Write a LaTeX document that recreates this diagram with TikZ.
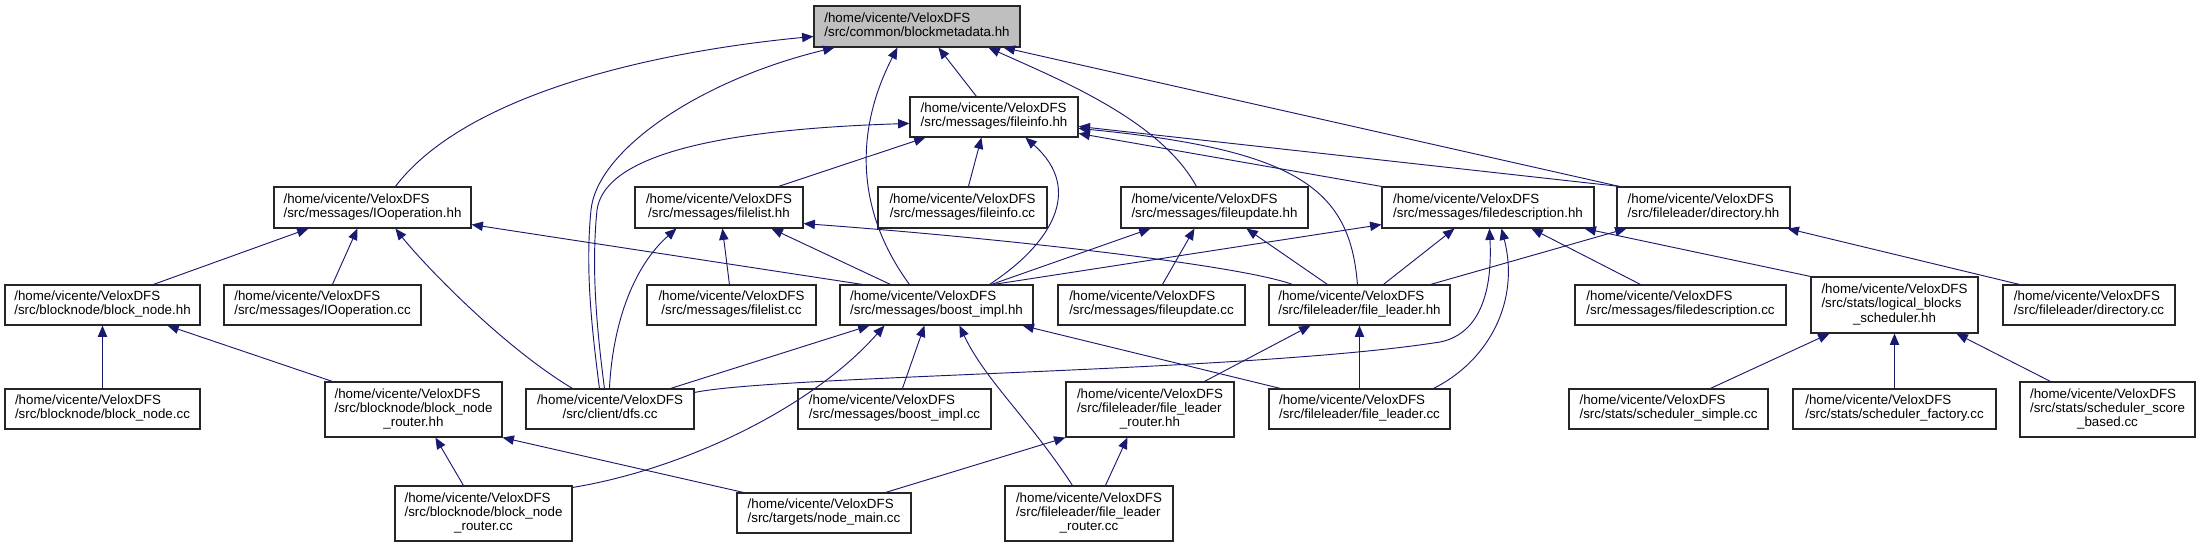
\documentclass[tikz,border=0pt]{standalone}
\usepackage{fontspec}
\setmainfont{Liberation Sans}
\usetikzlibrary{arrows.meta,calc}
\definecolor{midnight}{RGB}{25,25,112}
\definecolor{boxgray}{RGB}{191,191,191}
\newcommand{\twol}[2]{\begin{tabular}{@{}l@{}}#1\\\multicolumn{1}{@{}c@{}}{#2}\end{tabular}}
\newcommand{\threel}[3]{\begin{tabular}{@{}l@{}}#1\\#2\\\multicolumn{1}{@{}c@{}}{#3}\end{tabular}}
\newcommand{\vd}{/home/vicente/VeloxDFS}
\begin{document}
\begin{tikzpicture}[x=0.75pt,y=-0.75pt,
  box/.style={draw=black!85, line width=0.85pt, fill=white, inner sep=0pt, font=\fontsize{10}{10.7}\selectfont},
  bw/.style={minimum width={#1*0.75pt}},
  bh/.style={minimum height={#1*0.75pt}},
  edge/.style={draw=midnight, line width=0.7pt, -{Triangle[length=8.5pt,width=7pt]}},
]
\useasboundingbox (0,0) rectangle (2201,547);
% nodes
\node[box,bw=206,bh=41,fill=boxgray] (bm) at (917,26.5) {\twol{\vd}{/src/common/blockmetadata.hh}};
\node[box,bw=168,bh=40] (fih) at (994,117) {\twol{\vd}{/src/messages/fileinfo.hh}};
\node[box,bw=197,bh=41] (ioh) at (372.5,207.5) {\twol{\vd}{/src/messages/IOoperation.hh}};
\node[box,bw=168,bh=41] (flh) at (719,207.5) {\twol{\vd}{/src/messages/filelist.hh}};
\node[box,bw=169,bh=41] (fic) at (962.5,207.5) {\twol{\vd}{/src/messages/fileinfo.cc}};
\node[box,bw=187,bh=41] (fuh) at (1214.5,207.5) {\twol{\vd}{/src/messages/fileupdate.hh}};
\node[box,bw=212,bh=41] (fdh) at (1488,207.5) {\twol{\vd}{/src/messages/filedescription.hh}};
\node[box,bw=173,bh=41] (dih) at (1703.5,207.5) {\twol{\vd}{/src/fileleader/directory.hh}};
\node[box,bw=195,bh=40] (bnh) at (102.5,305) {\twol{\vd}{/src/blocknode/block\_node.hh}};
\node[box,bw=197,bh=40] (ioc) at (322.5,305) {\twol{\vd}{/src/messages/IOoperation.cc}};
\node[box,bw=169,bh=40] (flc) at (731.5,305) {\twol{\vd}{/src/messages/filelist.cc}};
\node[box,bw=193,bh=40] (bih) at (936.5,305) {\twol{\vd}{/src/messages/boost\_impl.hh}};
\node[box,bw=187,bh=40] (fuc) at (1151.5,305) {\twol{\vd}{/src/messages/fileupdate.cc}};
\node[box,bw=181,bh=40] (flead) at (1359.5,305) {\twol{\vd}{/src/fileleader/file\_leader.hh}};
\node[box,bw=211,bh=40] (fdc) at (1680.5,305) {\twol{\vd}{/src/messages/filedescription.cc}};
\node[box,bw=167,bh=56] (lbs) at (1894.5,305) {\threel{\vd}{/src/stats/logical\_blocks}{\_scheduler.hh}};
\node[box,bw=172,bh=40] (dic) at (2089,305) {\twol{\vd}{/src/fileleader/directory.cc}};
\node[box,bw=195,bh=40] (bnc) at (102.5,409) {\twol{\vd}{/src/blocknode/block\_node.cc}};
\node[box,bw=177,bh=55] (bnrh) at (413.5,409.5) {\threel{\vd}{/src/blocknode/block\_node}{\_router.hh}};
\node[box,bw=168,bh=40] (dfs) at (610,409) {\twol{\vd}{/src/client/dfs.cc}};
\node[box,bw=193,bh=40] (bic) at (894.5,409) {\twol{\vd}{/src/messages/boost\_impl.cc}};
\node[box,bw=168,bh=55] (flrh) at (1150,409.5) {\threel{\vd}{/src/fileleader/file\_leader}{\_router.hh}};
\node[box,bw=181,bh=40] (flcc) at (1359.5,409) {\twol{\vd}{/src/fileleader/file\_leader.cc}};
\node[box,bw=199,bh=40] (ssc) at (1668.5,409) {\twol{\vd}{/src/stats/scheduler\_simple.cc}};
\node[box,bw=203,bh=40] (sfc) at (1894.5,409) {\twol{\vd}{/src/stats/scheduler\_factory.cc}};
\node[box,bw=175,bh=55] (ssb) at (2107.5,409.5) {\threel{\vd}{/src/stats/scheduler\_score}{\_based.cc}};
\node[box,bw=177,bh=55] (bnrc) at (483.5,513.5) {\threel{\vd}{/src/blocknode/block\_node}{\_router.cc}};
\node[box,bw=174,bh=40] (nmc) at (824,513) {\twol{\vd}{/src/targets/node\_main.cc}};
\node[box,bw=168,bh=55] (flrc) at (1089,513.5) {\threel{\vd}{/src/fileleader/file\_leader}{\_router.cc}};
% edges into blockmetadata.hh
\draw[edge] ($(ioh.north west)+(122,0)$) .. controls (465,95) and (650,52) .. ($(bm.north west)+(0,31)$);
\draw[edge] ($(dfs.north west)+(74,0)$) .. controls (592,330) and (585,270) .. (591,210) .. controls (597,150) and (700,80) .. ($(bm.south west)+(21,0)$);
\draw[edge] ($(bih.north west)+(70,0)$) .. controls (855,210) and (855,130) .. ($(bm.south west)+(84,0)$);
\draw[edge] ($(fih.north west)+(67,0)$) -- ($(bm.south west)+(125,0)$);
\draw[edge] ($(fuh.north west)+(76,0)$) .. controls (1160,120) and (1060,80) .. ($(bm.south west)+(175,0)$);
\draw[edge] ($(dih.north west)+(3,0)$) -- ($(bm.south east)+(-17,0)$);
% edges into fileinfo.hh
\draw[edge] ($(dfs.north west)+(79,0)$) .. controls (597,330) and (591,270) .. (597,210) .. controls (604,160) and (700,130) .. ($(fih.north west)+(0,27)$);
\draw[edge] ($(flh.north west)+(144,0)$) -- ($(fih.south west)+(16,0)$);
\draw[edge] ($(fic.north west)+(91,0)$) -- ($(fih.south west)+(72,0)$);
\draw[edge] ($(bih.north west)+(150,0)$) .. controls (1050,245) and (1085,190) .. ($(fih.south west)+(116,0)$);
\draw[edge] (fdh.north west) -- ($(fih.north east)+(0,37)$);
\draw[edge] ($(dih.north west)+(3,0)$) -- ($(fih.north east)+(0,30)$);
\draw[edge] ($(flead.north west)+(89,0)$) .. controls (1350,190) and (1300,150) .. ($(fih.north east)+(0,32)$);
% edges into IOoperation.hh
\draw[edge] ($(bnh.north west)+(149,0)$) -- ($(ioh.south west)+(35,0)$);
\draw[edge] ($(ioc.north west)+(109,0)$) -- ($(ioh.south west)+(84,0)$);
\draw[edge] ($(dfs.north west)+(47,0)$) .. controls (500,345) and (420,260) .. ($(ioh.south west)+(122,0)$);
\draw[edge] ($(bih.north west)+(23,0)$) -- ($(ioh.south east)+(0,-4)$);
% edges into filelist.hh
\draw[edge] ($(flc.north west)+(83,0)$) -- ($(flh.south west)+(88,0)$);
\draw[edge] ($(bih.north west)+(51,0)$) -- ($(flh.south west)+(137,0)$);
\draw[edge] ($(flead.north west)+(24,0)$) .. controls (1240,265) and (1000,238) .. ($(flh.south east)+(0,-5)$);
\draw[edge] ($(dfs.north west)+(84,0)$) .. controls (613,320) and (635,265) .. ($(flh.south west)+(42,0)$);
% edges into fileupdate.hh
\draw[edge] ($(bih.north west)+(152,0)$) -- ($(fuh.south west)+(30,0)$);
\draw[edge] ($(fuc.north west)+(105,0)$) -- ($(fuh.south west)+(74,0)$);
\draw[edge] ($(flead.north west)+(59,0)$) -- ($(fuh.south west)+(126,0)$);
% edges into filedescription.hh
\draw[edge] ($(bih.north west)+(154,0)$) -- ($(fdh.south west)+(0,-4)$);
\draw[edge] ($(flead.north west)+(115,0)$) -- ($(fdh.south west)+(73,0)$);
\draw[edge] ($(dfs.north east)+(0,4)$) .. controls (780,375) and (1250,372) .. (1440,342) .. controls (1475,335) and (1493,300) .. ($(fdh.south west)+(108,0)$);
\draw[edge] ($(flcc.north east)+(-17,0)$) .. controls (1490,360) and (1520,300) .. ($(fdh.south west)+(120,0)$);
\draw[edge] ($(fdc.north west)+(66,0)$) -- ($(fdh.south west)+(150,0)$);
\draw[edge] (lbs.north west) -- ($(fdh.south east)+(-10,0)$);
% edges into directory.hh
\draw[edge] ($(flead.north east)+(-20,0)$) -- ($(dih.south west)+(10,0)$);
\draw[edge] ($(dic.north west)+(17,0)$) -- ($(dih.south east)+(-3,0)$);
% edges into boost_impl.hh
\draw[edge] ($(dfs.north east)+(-24,0)$) -- ($(bih.south west)+(30,0)$);
\draw[edge] ($(bnrc.north east)+(0,2)$) .. controls (680,470) and (810,410) .. ($(bih.south west)+(45,0)$);
\draw[edge] ($(bic.north west)+(105,0)$) -- ($(bih.south west)+(85,0)$);
\draw[edge] ($(flrc.north west)+(68,0)$) .. controls (1030,420) and (985,380) .. ($(bih.south west)+(120,0)$);
\draw[edge] ($(flcc.north west)+(12,0)$) -- ($(bih.south east)+(-11,0)$);
% edges into file_leader.hh
\draw[edge] ($(flrh.north west)+(139,0)$) -- ($(flead.south west)+(42,0)$);
\draw[edge] (flcc.north) -- (flead.south);
% edges into block_node.hh and block_node_router.hh
\draw[edge] (bnc.north) -- (bnh.south);
\draw[edge] ($(bnrh.north west)+(8,0)$) -- ($(bnh.south west)+(163,0)$);
\draw[edge] ($(bnrc.north west)+(69,0)$) -- ($(bnrh.south west)+(111,0)$);
\draw[edge] ($(nmc.north west)+(7,0)$) -- (bnrh.south east);
% edges into file_leader_router.hh
\draw[edge] ($(nmc.north east)+(-26,0)$) -- (flrh.south west);
\draw[edge] ($(flrc.north west)+(101,0)$) -- ($(flrh.south west)+(62,0)$);
% edges into logical_blocks_scheduler.hh
\draw[edge] ($(ssc.north west)+(142,0)$) -- ($(lbs.south west)+(19,0)$);
\draw[edge] (sfc.north) -- (lbs.south);
\draw[edge] ($(ssb.north west)+(31,0)$) -- ($(lbs.south west)+(146,0)$);
\end{tikzpicture}
\end{document}
